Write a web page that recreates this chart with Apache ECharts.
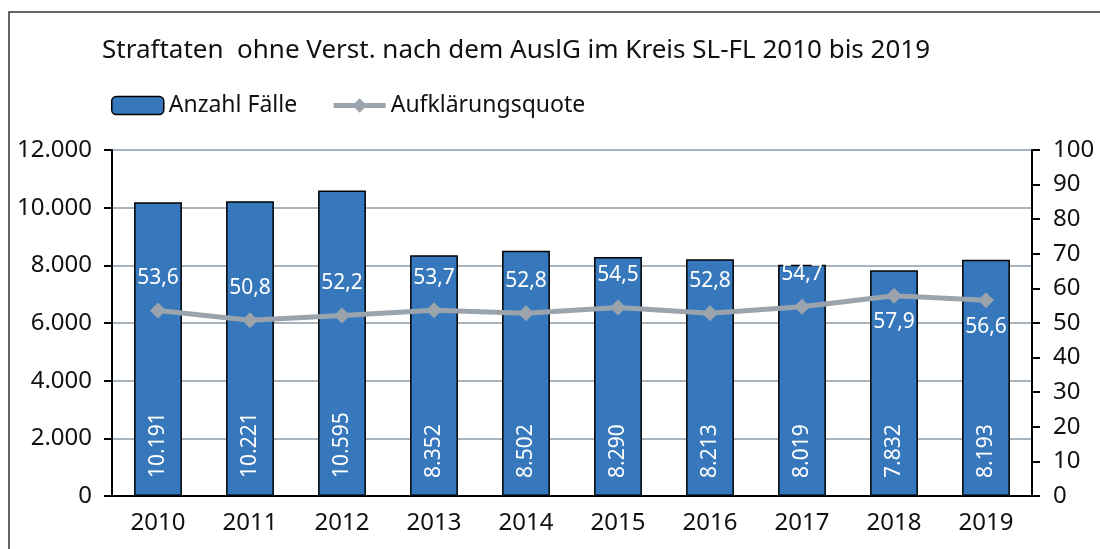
<!DOCTYPE html>
<html>
<head>
<meta charset="utf-8">
<script src="https://cdn.jsdelivr.net/npm/echarts@6/dist/echarts.min.js"></script>
<style>
  html, body { margin: 0; padding: 0; background: #fff; }
  #chart { width: 1100px; height: 549px; }
</style>
</head>
<body>
<div id="chart"></div>
<script>
var years = ['2010', '2011', '2012', '2013', '2014', '2015', '2016', '2017', '2018', '2019'];
var faelle = [10191, 10221, 10595, 8352, 8502, 8290, 8213, 8019, 7832, 8193];
var quote = [53.6, 50.8, 52.2, 53.7, 52.8, 54.5, 52.8, 54.7, 57.9, 56.6];
// labels below the line for these years
var labelBelow = ['2018', '2019'];

var FONT = '"Noto Sans", Lato, sans-serif';

function fmtThousand(v) {
    return String(v).replace(/\B(?=(\d{3})+(?!\d))/g, '.');
}

var chart = echarts.init(document.getElementById('chart'));

var lineData = [];
for (var i = 0; i < quote.length; i++) {
    var below = labelBelow.indexOf(years[i]) >= 0;
    lineData.push({
        value: quote[i],
        label: { position: below ? 'bottom' : 'top', distance: below ? 8 : 14 }
    });
}

chart.setOption({
    textStyle: { fontFamily: FONT },
    title: {
        text: 'Straftaten  ohne Verst. nach dem AuslG im Kreis SL-FL 2010 bis 2019',
        left: 97, top: 33,
        textStyle: { fontFamily: FONT, fontSize: 26, fontWeight: 'normal', color: '#111' }
    },
    legend: {
        left: 106, top: 89,
        itemGap: 34,
        itemWidth: 52, itemHeight: 18,
        textStyle: { fontFamily: FONT, fontSize: 23, color: '#111' },
        data: [
            { name: 'Anzahl Fälle', itemStyle: { color: '#3778bd', borderColor: '#000', borderWidth: 1.5 } },
            { name: 'Aufklärungsquote', lineStyle: { width: 5, color: '#9ba4ac' }, itemStyle: { color: '#9ba4ac' } }
        ]
    },
    grid: { left: 112, right: 68, top: 150, bottom: 53 },
    xAxis: {
        type: 'category',
        data: years,
        axisLine: { lineStyle: { color: '#000', width: 2 } },
        axisTick: { length: 8, lineStyle: { color: '#000', width: 2 } },
        axisLabel: { fontSize: 24, color: '#111', margin: 15 }
    },
    yAxis: [{
        type: 'value', min: 0, max: 12000, interval: 2000,
        axisLine: { show: true, lineStyle: { color: '#000', width: 2 } },
        axisTick: { show: true, length: 8, lineStyle: { color: '#000', width: 2 } },
        axisLabel: { fontSize: 24, color: '#111', margin: 20, formatter: fmtThousand },
        splitLine: { lineStyle: { color: '#a9b3bd', width: 2 } }
    }, {
        type: 'value', min: 0, max: 100, interval: 10,
        axisLine: { show: true, lineStyle: { color: '#000', width: 2 } },
        axisTick: { show: true, length: 8, lineStyle: { color: '#000', width: 2 } },
        axisLabel: { fontSize: 24, color: '#111', margin: 21 },
        splitLine: { show: false }
    }],
    graphic: [{
        type: 'rect',
        shape: { x: 9, y: 12, width: 1200, height: 700 },
        style: { fill: 'none', stroke: '#333', lineWidth: 1.5 },
        silent: true
    }],
    series: [{
        name: 'Anzahl Fälle',
        type: 'bar',
        data: faelle,
        barWidth: '52%',
        itemStyle: { color: '#3778bd', borderColor: '#000', borderWidth: 1.5 },
        label: {
            show: true,
            position: 'insideBottom',
            rotate: 90,
            align: 'left',
            verticalAlign: 'middle',
            distance: 18,
            color: '#fff',
            fontSize: 21,
            formatter: function (p) { return fmtThousand(p.value); }
        }
    }, {
        name: 'Aufklärungsquote',
        type: 'line',
        yAxisIndex: 1,
        data: lineData,
        symbol: 'diamond',
        symbolSize: 16,
        lineStyle: { color: '#9ba4ac', width: 5 },
        itemStyle: { color: '#9ba4ac' },
        label: {
            show: true,
            color: '#fff',
            fontSize: 21,
            formatter: function (p) { return String(p.value).replace('.', ','); }
        }
    }]
});
</script>
</body>
</html>
